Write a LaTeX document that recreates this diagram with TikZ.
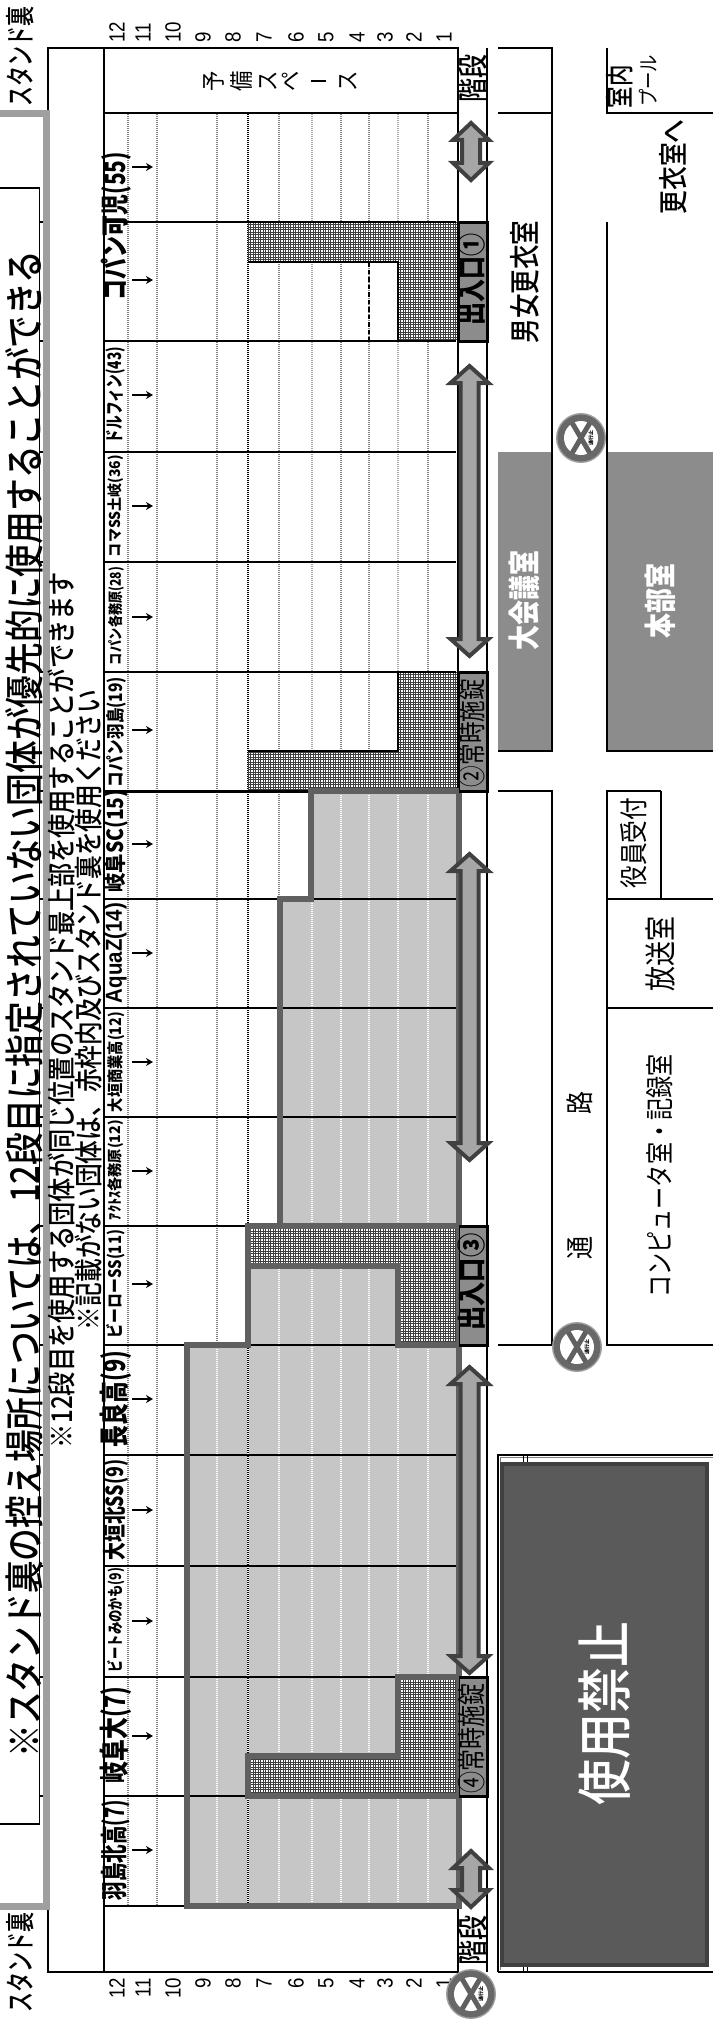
\documentclass[tikz,border=0pt]{standalone}
\usepackage{graphicx}
\usepackage{fontspec}
\setmainfont{Noto Sans CJK JP}
\newfontfamily\latf{Liberation Sans}
\newfontfamily\medf{Noto Sans CJK JP Medium}
\newfontfamily\semf{Noto Sans CJK JP Medium}
\definecolor{regfill}{HTML}{C6C6C6}
\definecolor{regline}{HTML}{606060}
\definecolor{roomgray}{HTML}{8C8C8C}
\definecolor{arrfill}{HTML}{A6A6A6}
\definecolor{arrline}{HTML}{404040}
\definecolor{banfill}{HTML}{5A5A5A}
\newcommand{\fs}[1]{\fontsize{#1}{#1}\selectfont}
\newcommand{\fitlen}[2]{\resizebox{#1pt}{\totalheight}{#2}}
\newcommand{\hatchgrid}[5]{% x0 y0 x1 y1 clip-path
  \begin{scope}
    \clip #5;
    \fill[white] (#1,#2) rectangle (#3,#4);
    \foreach \i in {0,...,90}{\draw[hatchline] (#1+2.5*\i,#2) -- (#1+2.5*\i,#4);}
    \foreach \i in {0,...,60}{\draw[hatchline] (#1,#2+2.5*\i) -- (#3,#2+2.5*\i);}
  \end{scope}}
\newcommand{\collabel}[5]{% y font len text arrowy
  \node[txt,font=#2] at (116,#1) {\fitlen{#3}{#4}};
  \draw[hdr] (132,#5) -- (153,#5);}
\newcommand{\dbl}[4]{% cx half-head top bottom
  \draw[arrowbody] (#1,#3) -- (#1+#2,#3+17) -- (#1+9,#3+17) -- (#1+9,#4-17) -- (#1+#2,#4-17) -- (#1,#4) -- (#1-#2,#4-17) -- (#1-9,#4-17) -- (#1-9,#3+17) -- (#1-#2,#3+17) -- cycle;}
\newcommand{\nosign}[2]{%
  \fill[gray!75!white] (#1,#2) circle (25);
  \fill[regline!95!white] (#1,#2) circle (23.5);
  \fill[white] (#1,#2) circle (17);
  \begin{scope}\clip (#1,#2) circle (17.5);
    \draw[regline,line width=5] (#1-10,#2-17) -- (#1+10,#2+17);
    \draw[regline,line width=5] (#1+10,#2-17) -- (#1-10,#2+17);
  \end{scope}
  \node[txt,font=\bfseries\fs{5}] at (#1+10,#2) {通行止};}
\usetikzlibrary{arrows.meta}
\tikzset{
  txt/.style={rotate=90,inner sep=0,outer sep=0},
  room/.style={line width=2,draw=black},
  hatchline/.style={line width=0.7,draw=black!75},
  hdr/.style={line width=2,-{Stealth[length=7,width=8]}},
  arrowbody/.style={fill=arrfill,draw=arrline,line width=4,line join=miter},
  entr/.style={fill=roomgray,draw=none},
}
\begin{document}
\begin{tikzpicture}[x=1pt,y=-1pt]
\useasboundingbox (0,0) rectangle (713,2020);
\fill[white] (0,0) rectangle (713,2020);

% shaded waiting area
\fill[regfill] (459,791) -- (311,791) -- (311,899) -- (280,899) -- (280,1226) -- (248,1226) -- (248,1345) -- (187,1345) -- (187,1906) -- (459,1906) -- cycle;

% step lines
\foreach \xx/\cc in {128/gray,157/gray,217/gray,248/black,279/gray,312/gray!70,341/gray,369/gray,398/gray!70,428/gray}{
  \draw[line width=1.6,\cc] (\xx,113) -- (\xx,1906);
  \draw[line width=1.6,white,dash pattern=on 1 off 1] (\xx,113) -- (\xx,1906);
}
\begin{scope}
  \clip (459,791) -- (311,791) -- (311,899) -- (280,899) -- (280,1226) -- (248,1226) -- (248,1345) -- (187,1345) -- (187,1906) -- (459,1906) -- cycle;
  \foreach \xx in {217,279,312,341,369,398,428}{
    \draw[line width=1.6,gray!45] (\xx,113) -- (\xx,1906);
    \draw[line width=1.6,white,dash pattern=on 1 off 1] (\xx,113) -- (\xx,1906);
  }
\end{scope}

% hatched zones
\hatchgrid{248}{222}{458}{341}{(248,222) -- (458,222) -- (458,341) -- (398,341) -- (398,262) -- (248,262) -- cycle}
\hatchgrid{248}{672}{458}{791}{(398,672) -- (458,672) -- (458,791) -- (248,791) -- (248,751) -- (398,751) -- cycle}
\hatchgrid{248}{1226}{459}{1345}{(248,1226) -- (459,1226) -- (459,1345) -- (398,1345) -- (398,1266) -- (248,1266) -- cycle}
\hatchgrid{248}{1677}{459}{1796}{(398,1677) -- (459,1677) -- (459,1796) -- (248,1796) -- (248,1756) -- (398,1756) -- cycle}

\draw[line width=1.6,dash pattern=on 4.5 off 3] (369,262) -- (369,341);

% column dividers
\foreach \yy/\ww in {222/1.5,341/2.5,452/2,562/2,672/1.5,791/3,899/2,1008/1.5,1117/2.5,1226/2.5,1345/2,1455/1.5,1566/2,1677/2.5,1796/2.5,1906/2.5}{
  \draw[line width=\ww] (103.6,\yy) -- (456,\yy);
  \draw[line width=1.5] (39.5,\yy) -- (44,\yy);
}
\draw[line width=1.5] (103.6,113) -- (458,113);
\draw[line width=2.5] (103.6,113) -- (310,113);

% black edges of the unshaded hatched zones
\draw[line width=2] (248,262) -- (398,262) -- (398,341);
\draw[line width=2] (248,751) -- (398,751) -- (398,672);

% frame
\draw[room] (47.7,112) -- (47.7,48) -- (458,48) -- (458,113);
\draw[room] (47.7,1906) -- (47.7,1972) -- (458,1972) -- (458,1906);
\draw[room] (103.6,48) -- (103.6,1972);
\draw[room] (458,113) -- (458,791);
\draw[room] (487,48) -- (487,1972);

% shaded area borders
\draw[regline,line width=5.5,line join=miter] (459,791) -- (311,791) -- (311,899) -- (280,899) -- (280,1226) -- (248,1226) -- (248,1345) -- (187,1345) -- (187,1906) -- (459,1906) -- cycle;
\draw[regline,line width=5.5,line join=miter] (459,1226) -- (248,1226) -- (248,1266) -- (398,1266) -- (398,1345) -- (459,1345);
\draw[regline,line width=5.5,line join=miter] (459,1677) -- (398,1677) -- (398,1756) -- (248,1756) -- (248,1796) -- (459,1796);

% entrances
\foreach \a/\b in {222/341,672/791,1226/1345,1677/1796}{
  \fill[entr] (459,\a) rectangle (487,\b);
  \draw[line width=3] (459,\a) -- (487,\a) -- (487,\b) -- (459,\b);
  \draw[line width=1] (459,\a) -- (459,\b);
}
\node[txt,font=\bfseries\fs{26}] at (472,279) {\fitlen{92}{出入口①}};
\node[txt,font=\fs{26}] at (472,733) {\fitlen{108}{②常時施錠}};
\node[txt,font=\bfseries\fs{26}] at (472,1282) {\fitlen{97}{出入口③}};
\node[txt,font=\fs{26}] at (472,1738) {\fitlen{110}{④常時施錠}};

% corridor arrows
\dbl{471}{18}{123}{180}
\dbl{469.5}{19}{366}{656}
\dbl{469.5}{19}{854}{1160}
\dbl{469.5}{19}{1367}{1673}
\dbl{471}{18}{1851}{1907}

% column labels
\collabel{226}{\bfseries\fs{23}}{148}{コパン可児(55)}{167}
\draw[hdr] (132,280) -- (153,280);
\collabel{395}{\bfseries\fs{15}}{96}{ドルフィン(43)}{395}
\collabel{506}{\bfseries\fs{12}}{102}{コマSS土岐(36)}{506}
\collabel{616}{\bfseries\fs{12}}{98}{コパン各務原(28)}{617}
\collabel{732}{\bfseries\fs{15}}{110}{コパン羽島(19)}{730}
\collabel{841}{\bfseries\fs{18}}{103}{岐阜SC(15)}{844}
\collabel{953}{\bfseries\latf\fs{18}}{100}{AquaZ(14)}{953}
\collabel{1062}{\bfseries\fs{13}}{100}{大垣商業高(12)}{1062}
\collabel{1170}{\bfseries\fs{12}}{100}{ｱｸﾄｽ各務原(12)}{1171}
\collabel{1284}{\bfseries\fs{14}}{108}{ビーローSS(11)}{1284}
\collabel{1399}{\bfseries\fs{24}}{96}{長良高(9)}{1399}
\collabel{1510}{\bfseries\fs{19}}{101}{大垣北SS(9)}{1510}
\collabel{1620}{\bfseries\fs{13}}{104}{ビートみのかも(9)}{1621}
\collabel{1735}{\bfseries\fs{24}}{96}{岐阜大(7)}{1736}
\collabel{1850}{\bfseries\fs{22}}{100}{羽島北高(7)}{1850}

% step numbers
\foreach \xx/\nn in {117/12,143/11,173/10,203/9,233/8,264/7,296/6,326/5,357/4,385/3,414/2,444/1}{
  \node[txt,anchor=west,font=\latf\fs{22}] at (\xx,42.5) {\scalebox{.85}[1]{\nn}};
  \node[txt,anchor=east,font=\latf\fs{22}] at (\xx,1978) {\scalebox{.85}[1]{\nn}};
}

% reserve space
\foreach \xx/\cc in {214/予,241/備,268/ス,291/ペ,348/ス}{
  \node[txt,font=\fs{24}] at (\xx,81) {\scalebox{.85}[1]{\cc}};
}
\draw[line width=2] (311,81) -- (326,81);

% stairs, stand labels
\node[txt,font=\semf\fs{28}] at (473,79) {\fitlen{48}{階段}};
\node[txt,font=\semf\fs{28}] at (473,1940) {\fitlen{50}{階段}};
\node[txt,font=\semf\fs{27}] at (20,57) {\fitlen{100}{スタンド裏}};
\node[txt,font=\semf\fs{27}] at (20,1962) {\fitlen{100}{スタンド裏}};

% title block
\draw[line width=1.2] (0,188) -- (39.5,188) -- (39.5,1824) -- (0,1824);
\draw[line width=7,gray!75,line join=miter] (0,113.5) -- (46.5,113.5) -- (46.5,1906) -- (0,1906);
\node[txt,font=\medf\fs{36}] at (24.5,1004) {\fitlen{1507}{※スタンド裏の控え場所については、12段目に指定されていない団体が優先的に使用することができる}};
\node[txt,font=\medf\fs{26}] at (62,1010) {\fitlen{876}{※12段目を使用する団体が同じ位置のスタンド最上部を使用することができます}};
\node[txt,font=\medf\fs{26}] at (89,1010) {\fitlen{640}{※記載がない団体は、赤枠内及びスタンド裏を使用ください}};

% rooms
\draw[room] (498,48) -- (552,48) -- (552,452);
\draw[room] (498,113) -- (552,113);
\draw[room] (607,48) -- (607,113) -- (713,113);
\draw[room] (607,222) -- (607,452);
\fill[roomgray] (498,452) rectangle (552,751);
\draw[room] (498,751) -- (552,751) -- (552,452);
\fill[roomgray] (607,452) rectangle (713,751);
\draw[room] (713,751) -- (607,751) -- (607,452);
\draw[room] (498,791) -- (552,791) -- (552,1345) -- (498,1345);
\draw[room] (661,791) -- (607,791) -- (607,1345) -- (713,1345);
\draw[room] (661,791) -- (661,899);
\draw[room] (607,899) -- (713,899);
\draw[room] (607,1008) -- (713,1008);

\node[txt,font=\semf\fs{28}] at (525,282) {\fitlen{123}{男女更衣室}};
\node[txt,font=\semf\fs{27}] at (673,167) {\fitlen{95}{更衣室へ}};
\node[txt,font=\semf\fs{26}] at (620,87) {\fitlen{43}{室内}};
\node[txt,font=\fs{20}] at (648,81) {\fitlen{52}{プール}};
\node[txt,font=\bfseries\fs{29},text=white] at (524,600) {\fitlen{100}{大会議室}};
\node[txt,font=\bfseries\fs{29},text=white] at (660,601) {\fitlen{75}{本部室}};
\node[txt,font=\fs{26}] at (634,843) {\fitlen{91}{役員受付}};
\node[txt,font=\fs{29}] at (660,954) {\fitlen{75}{放送室}};
\node[txt,font=\fs{26}] at (660,1176) {\fitlen{243}{コンピュータ室・記録室}};
\node[txt,font=\fs{26}] at (580,1248) {\fitlen{23}{通}};
\node[txt,font=\fs{26}] at (580,1103) {\fitlen{23}{路}};

% forbidden room
\draw[line width=1.2] (498,1972) -- (498,1455) -- (713,1455);
\draw[line width=1.2] (498,1972) -- (713,1972);
\draw[line width=0.8,gray] (500.5,1970) -- (500.5,1457.5) -- (713,1457.5);
\draw[line width=0.8] (523,1455) -- (523,1463) (527,1455) -- (527,1463);
\draw[line width=0.8] (523,1965) -- (523,1972) (527,1965) -- (527,1972);
\filldraw[fill=banfill,draw=arrline,line width=4] (502,1464) rectangle (707,1965);
\node[txt,font=\semf\fs{50},text=white] at (605,1713) {\fitlen{184}{使用禁止}};

% no-entry signs
\nosign{581}{438}
\nosign{577}{1347}
\nosign{471}{1994}
\end{tikzpicture}
\end{document}
